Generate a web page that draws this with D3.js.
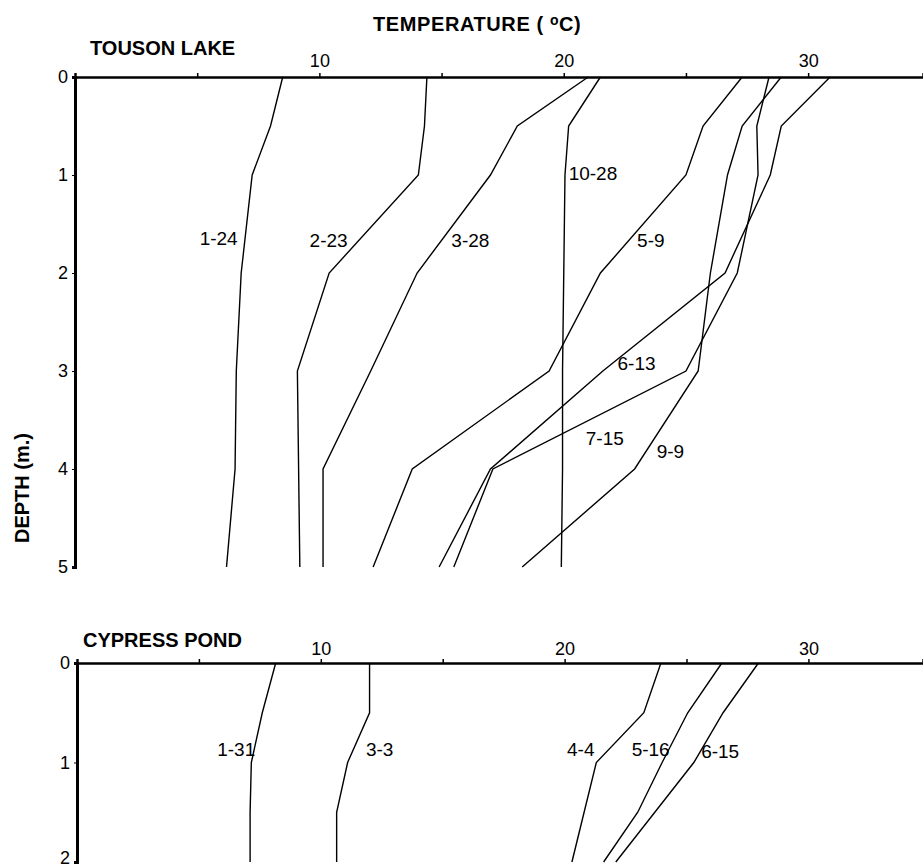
<!DOCTYPE html>
<html lang="en">
  <head>
    <meta charset="UTF-8" />
    <title>Temperature profiles - Touson Lake and Cypress Pond</title>
    <script src="https://d3js.org/d3.v7.min.js"></script>
    <style>
      body { margin: 0; background: #fff; }
      text { font-family: "Liberation Sans", Arial, sans-serif; fill: #000; }
      .title { font-weight: bold; font-size: 20px; }
      .tick text { font-size: 18px; }
      .lbl { font-size: 19px; }
    </style>
  </head>
  <body>
    <div id="viz"></div>
    <script>
      // depth (m) at which temperatures were read
      const tousonDepth = [0, 0.5, 1, 2, 3, 4, 5];
      const cypressDepth = [0, 0.5, 1, 1.5, 2];

      // Touson Lake, temperature (C) by date
      const tousonDates = ["1-24", "2-23", "3-28", "10-28", "5-9", "6-13", "7-15", "9-9"];
      const touson_1_24 = [8.5, 8.0, 7.25, 6.8, 6.6, 6.55, 6.2];
      const touson_2_23 = [14.4, 14.3, 14.05, 10.4, 9.1, 9.15, 9.2];
      const touson_3_28 = [21.0, 18.1, 17.0, 14.0, 12.1, 10.15, 10.15];
      const touson_10_28 = [21.5, 20.2, 20.05, 20.0, 19.95, 19.95, 19.9];
      const touson_5_9 = [27.3, 25.7, 25.0, 21.5, 19.4, 13.8, 12.2];
      const touson_6_13 = [30.9, 28.9, 28.45, 26.6, 21.6, 17.0, 14.9];
      const touson_7_15 = [28.4, 27.9, 27.95, 27.1, 25.0, 17.1, 15.5];
      const touson_9_9 = [28.9, 27.3, 26.7, 26.0, 25.5, 22.9, 18.3];

      // Cypress Pond
      const cypressDates = ["1-31", "3-3", "4-4", "5-16", "6-15"];
      const cypress_1_31 = [8.15, 7.6, 7.15, 7.1, 7.1];
      const cypress_3_3 = [12.0, 12.0, 11.1, 10.65, 10.65];
      const cypress_4_4 = [23.95, 23.25, 21.3, 20.8, 20.3];
      const cypress_5_16 = [26.45, 25.05, 24.0, 23.0, 21.6];
      const cypress_6_15 = [27.95, 26.5, 25.3, 23.7, 22.1];

      // where each date label sits (temperature, depth)
      const tousonLabelTemp = [5.1, 9.6, 15.4, 20.2, 23.0, 22.2, 20.9, 23.8];
      const tousonLabelDepth = [1.71, 1.73, 1.73, 1.05, 1.73, 2.99, 3.76, 3.89];
      const cypressLabelTemp = [5.75, 11.85, 20.1, 22.75, 25.6];
      const cypressLabelDepth = [0.93, 0.93, 0.93, 0.93, 0.95];

      const xTicks = [5, 10, 15, 20, 25, 30];
      const width = 923, height = 867;

      const svg = d3.select("#viz").append("svg")
        .attr("width", width).attr("height", height);

      function panel(opts) {
        const x = d3.scaleLinear().domain([0, 34.7]).range([opts.left, width]);
        const y = d3.scaleLinear().domain([0, opts.maxDepth]).range([opts.top, opts.bottom]);
        const g = svg.append("g");

        // top temperature axis
        g.append("g")
          .attr("transform", "translate(0," + opts.top + ")")
          .call(d3.axisTop(x).tickValues(xTicks).tickSizeOuter(0).tickSize(4).tickPadding(opts.pad)
            .tickFormat(d => d % 10 === 0 ? d : ""))
          .call(a => a.select(".domain").attr("stroke-width", 2.4))
          .call(a => a.selectAll(".tick line").attr("stroke-width", 1.5));

        // left depth axis
        g.append("g")
          .attr("transform", "translate(" + opts.left + ",0)")
          .call(d3.axisLeft(y).ticks(opts.maxDepth).tickSizeOuter(0).tickSize(3).tickPadding(4))
          .call(a => a.select(".domain").attr("stroke-width", 3))
          .call(a => a.selectAll(".tick text")
            .attr("dy", d => d === opts.maxDepth && opts.maxDepth === 2 ? "0.1em" : "0.32em"));

        const line = d3.line().x(d => x(d[0])).y(d => y(d[1]));
        opts.series.forEach(s => {
          g.append("path")
            .datum(s.map((t, i) => [t, opts.depth[i]]))
            .attr("d", line)
            .attr("fill", "none")
            .attr("stroke", "#000")
            .attr("stroke-width", 1.4);
        });

        opts.names.forEach((n, i) => {
          g.append("text").attr("class", "lbl")
            .attr("x", x(opts.labelT[i]))
            .attr("y", y(opts.labelD[i]))
            .text(n);
        });

        g.append("text").attr("class", "title")
          .attr("x", opts.left + opts.titleDx).attr("y", opts.top - opts.titleDy)
          .text(opts.name);
      }

      panel({
        name: "TOUSON LAKE", left: 75, top: 77, bottom: 567, maxDepth: 5,
        pad: 6, titleDx: 15, titleDy: 22,
        depth: tousonDepth,
        series: [touson_1_24, touson_2_23, touson_3_28, touson_10_28, touson_5_9, touson_6_13, touson_7_15, touson_9_9],
        names: tousonDates, labelT: tousonLabelTemp, labelD: tousonLabelDepth
      });

      panel({
        name: "CYPRESS POND", left: 77, top: 663, bottom: 862, maxDepth: 2,
        pad: 4, titleDx: 6, titleDy: 16,
        depth: cypressDepth,
        series: [cypress_1_31, cypress_3_3, cypress_4_4, cypress_5_16, cypress_6_15],
        names: cypressDates, labelT: cypressLabelTemp, labelD: cypressLabelDepth
      });

      // shared titles
      const t = svg.append("text").attr("class", "title")
        .attr("x", 373).attr("y", 31).attr("letter-spacing", 0.6);
      t.append("tspan").text("TEMPERATURE ( ");
      t.append("tspan").attr("font-size", 14).attr("dy", -6).text("o");
      t.append("tspan").attr("dy", 6).text("C)");

      svg.append("text").attr("class", "title")
        .attr("transform", "translate(29,488) rotate(-90)")
        .attr("text-anchor", "middle")
        .text("DEPTH (m.)");
    </script>
  </body>
</html>
